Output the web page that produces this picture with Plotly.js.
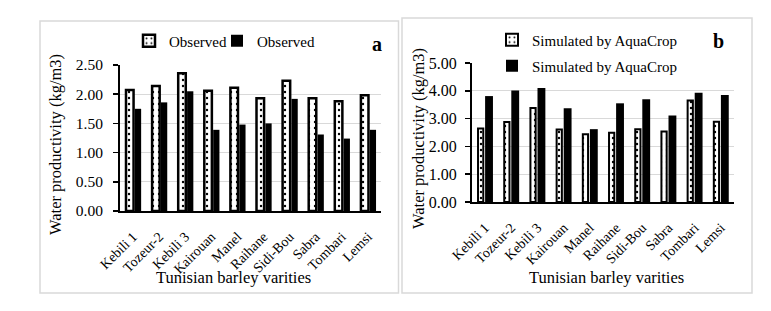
<!DOCTYPE html>
<html>
<head>
<meta charset="utf-8">
<script src="https://cdn.plot.ly/plotly-3.0.1.min.js"></script>
<style>html,body{margin:0;padding:0;background:#fff;}#chart{width:771px;height:311px;}</style>
</head>
<body>
<div id="chart"></div>
<script>
const categories = ['Kebili 1','Tozeur-2','Kebili 3','Kairouan','Manel','Raihane','Sidi-Bou','Sabra','Tombari','Lemsi'];
const observedA1 = [2.07,2.14,2.36,2.06,2.11,1.93,2.23,1.93,1.88,1.98];
const observedA2 = [1.75,1.86,2.05,1.39,1.48,1.50,1.92,1.31,1.24,1.39];
const simulatedB1 = [2.64,2.88,3.38,2.61,2.44,2.49,2.62,2.54,3.65,2.89];
const simulatedB2 = [3.81,4.01,4.10,3.37,2.62,3.55,3.70,3.11,3.93,3.85];
const seriesNames = ['Observed','Observed','Simulated by AquaCrop','Simulated by AquaCrop'];

const W = 771, H = 311;
const px = v => v / W;
const py = v => (H - v) / H;
const serif = 'Liberation Serif';

const dotted = (lw) => ({color:'#fff', line:{color:'#000', width:lw},
  pattern:{shape:'.', fgcolor:'#000', bgcolor:'#fff', size:6, solidity:0.12}});

const traces = [
  {type:'bar', x:categories, y:observedA1, name:seriesNames[0], xaxis:'x', yaxis:'y',
   offset:-0.27, width:0.29, marker:dotted(2.5), legend:'legend'},
  {type:'bar', x:categories, y:observedA2, name:seriesNames[1], xaxis:'x', yaxis:'y',
   offset:0.07, width:0.24, marker:{color:'#000', line:{width:0}}, legend:'legend2'},
  {type:'bar', x:categories, y:simulatedB1, name:seriesNames[2], xaxis:'x2', yaxis:'y2',
   offset:-0.27, width:0.20, marker:dotted(2), legend:'legend3'},
  {type:'bar', x:categories, y:simulatedB2, name:seriesNames[3], xaxis:'x2', yaxis:'y2',
   offset:0.0, width:0.30, marker:{color:'#000', line:{width:0}}, legend:'legend4'}
];

const xcommon = {type:'category', showline:true, linecolor:'#000', linewidth:2,
  ticks:'', showgrid:false, tickangle:-45, tickfont:{family:serif, size:14, color:'#000'},
  ticklabelstandoff:10, fixedrange:true};
const ycommon = {showline:true, linecolor:'#000', linewidth:2, ticks:'outside', ticklen:5,
  tickwidth:1.5, tickcolor:'#000', showgrid:true, gridcolor:'#d9d9d9', gridwidth:1,
  zeroline:false, tickformat:'.2f', fixedrange:true};

const legBase = {font:{family:serif, size:15, color:'#000'}, bgcolor:'rgba(0,0,0,0)',
  xanchor:'left', yanchor:'middle', orientation:'v', itemclick:false, itemdoubleclick:false};

const ann = (text, x, y, size, extra) => Object.assign({text:text, xref:'paper', yref:'paper',
  x:px(x), y:py(y), xanchor:'center', yanchor:'middle', showarrow:false,
  font:{family:serif, size:size, color:'#000'}}, extra || {});

const layout = {
  width:W, height:H, margin:{l:0,r:0,t:0,b:0}, paper_bgcolor:'#fff', plot_bgcolor:'#fff',
  font:{family:serif, color:'#000'},
  barmode:'overlay', showlegend:true,
  xaxis: Object.assign({}, xcommon, {domain:[px(120), px(381)], anchor:'y'}),
  yaxis: Object.assign({}, ycommon, {domain:[py(211), py(65)], range:[0,2.5], dtick:0.5,
    tickfont:{family:serif, size:15.5, color:'#000'}, ticklabelstandoff:7, anchor:'x'}),
  xaxis2: Object.assign({}, xcommon, {domain:[px(472), px(734)], anchor:'y2'}),
  yaxis2: Object.assign({}, ycommon, {domain:[py(202), py(63)], range:[0,5], dtick:1,
    tickfont:{family:serif, size:16, color:'#000'}, ticklabelstandoff:5, anchor:'x2'}),
  legend: Object.assign({}, legBase, {x:px(129), y:py(41)}),
  legend2: Object.assign({}, legBase, {x:px(217), y:py(41)}),
  legend3: Object.assign({}, legBase, {x:px(492), y:py(40)}),
  legend4: Object.assign({}, legBase, {x:px(492), y:py(66)}),
  shapes:[
    {type:'rect', xref:'paper', yref:'paper', x0:px(40), x1:px(398.5), y0:py(293), y1:py(21),
     line:{color:'#d9d9d9', width:1.5}},
    {type:'rect', xref:'paper', yref:'paper', x0:px(402), x1:px(752), y0:py(293), y1:py(18),
     line:{color:'#d9d9d9', width:1.5}}
  ],
  annotations:[
    ann('<b>a</b>', 377, 44, 20),
    ann('<b>b</b>', 718, 41, 20),
    ann('Water productivity (kg/m3)', 55, 145, 16.5, {textangle:-90}),
    ann('Water productivity (kg/m3)', 418, 138, 16.5, {textangle:-90}),
    ann('Tunisian barley varities', 234, 277, 16.5),
    ann('Tunisian barley varities', 606, 277, 16.5)
  ]
};

Plotly.newPlot('chart', traces, layout, {displayModeBar:false, staticPlot:true});
</script>
</body>
</html>
